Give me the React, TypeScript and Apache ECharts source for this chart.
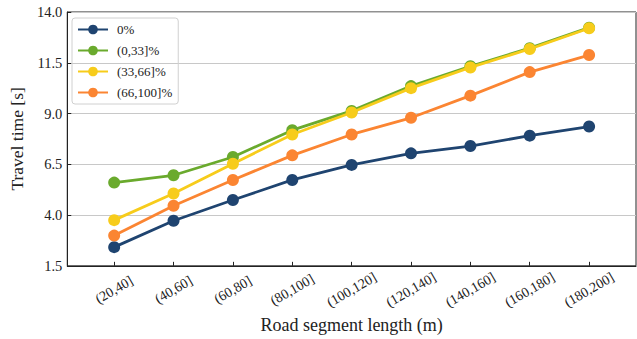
import React, { useEffect, useRef } from "react";
import * as echarts from "echarts";

const categories = ["(20,40]", "(40,60]", "(60,80]", "(80,100]", "(100,120]", "(120,140]", "(140,160]", "(160,180]", "(180,200]"];
const seriesNames = ["0%", "(0,33]%", "(33,66]%", "(66,100]%"];
const s0 = [2.42, 3.72, 4.74, 5.73, 6.47, 7.04, 7.4, 7.91, 8.36];
const s1 = [5.6, 5.96, 6.86, 8.18, 9.13, 10.35, 11.33, 12.22, 13.23];
const s2 = [3.75, 5.06, 6.53, 7.97, 9.05, 10.25, 11.27, 12.18, 13.2];
const s3 = [2.99, 4.46, 5.73, 6.94, 7.97, 8.79, 9.88, 11.04, 11.88];
const colors = ["#1f4470", "#6aaa2d", "#f7cc1b", "#fb8532"];

const FONT = "Liberation Serif";

export default function App() {
  const ref = useRef<HTMLDivElement>(null);
  useEffect(() => {
    document.body.style.margin = "0";
    const chart = echarts.init(ref.current!, null, { renderer: "svg" });
    const all = [s0, s1, s2, s3];
    const idx = categories.map((_, i) => i);
    chart.setOption({
      animation: false,
      textStyle: { fontFamily: FONT },
      grid: { left: 66, top: 12, right: 1, bottom: 72, show: true, borderColor: "#222", borderWidth: 1 },
      legend: {
        orient: "vertical",
        left: 72,
        top: 18,
        data: seriesNames,
        itemWidth: 30,
        itemHeight: 12,
        itemGap: 8,
        padding: [5, 6, 5, 5],
        borderColor: "#d0d0d0",
        borderWidth: 1,
        borderRadius: 3,
        textStyle: { fontFamily: FONT, fontSize: 13, color: "#222", padding: [0, 0, 0, 4] },
      },
      xAxis: {
        type: "value",
        min: -0.79,
        max: 8.79,
        name: "Road segment length (m)",
        nameLocation: "middle",
        nameGap: 47,
        nameTextStyle: { fontFamily: FONT, fontSize: 18, color: "#222" },
        axisLine: { show: true, onZero: false, lineStyle: { color: "#222" } },
        axisTick: { show: true, inside: true, length: 4, lineStyle: { color: "#222" }, customValues: idx },
        splitLine: { show: false },
        axisLabel: {
          customValues: idx,
          rotate: 30,
          align: "center",
          verticalAlign: "middle",
          margin: 24,
          fontFamily: FONT,
          fontSize: 14,
          color: "#222",
          formatter: (v: number) => categories[Math.round(v)] ?? "",
        },
      },
      yAxis: {
        type: "value",
        min: 1.5,
        max: 14,
        interval: 2.5,
        name: "Travel time [s]",
        nameLocation: "middle",
        nameGap: 30,
        nameTextStyle: { fontFamily: FONT, fontSize: 17.5, color: "#222" },
        axisLine: { show: true, onZero: false, lineStyle: { color: "#222" } },
        axisTick: { show: true, inside: true, length: 4, lineStyle: { color: "#222" } },
        splitLine: { show: true, lineStyle: { color: "#c8c8c8", width: 1 } },
        axisLabel: {
          fontFamily: FONT,
          fontSize: 14.5,
          color: "#222",
          margin: 5,
          formatter: (v: number) => v.toFixed(1),
        },
      },
      series: all.map((d, k) => ({
        name: seriesNames[k],
        type: "line",
        data: d.map((v, i) => [i, v]),
        symbol: "circle",
        symbolSize: 12,
        color: colors[k],
        lineStyle: { width: 2.8, color: colors[k] },
        itemStyle: { color: colors[k] },
        z: 2 + k,
      })),
    });
    return () => chart.dispose();
  }, []);
  return (
    <div>
      <div ref={ref} style={{ width: 637, height: 339 }} />
    </div>
  );
}
